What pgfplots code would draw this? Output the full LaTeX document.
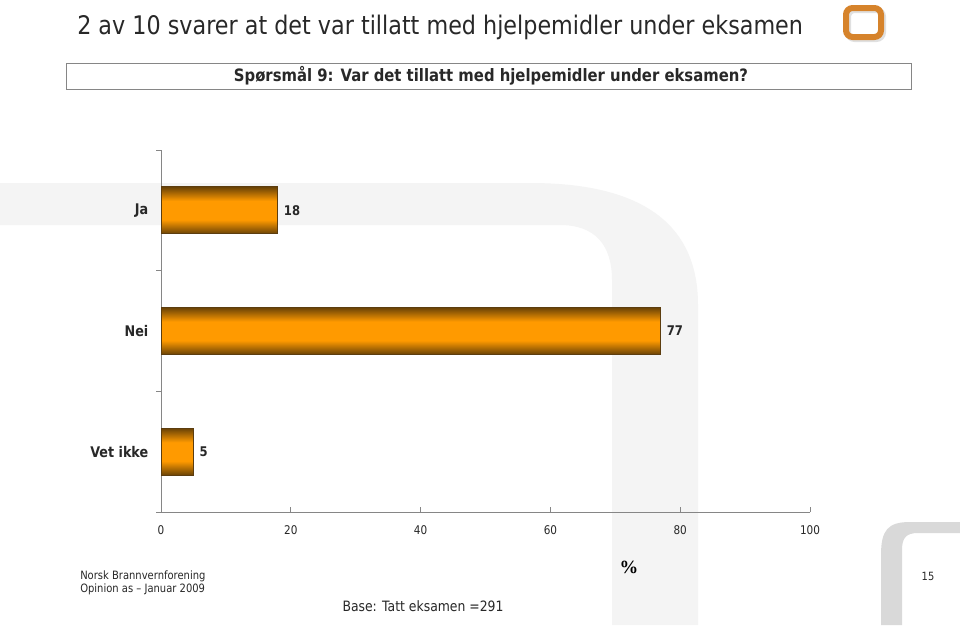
\documentclass[border=0pt]{standalone}
\usepackage{pgfplots}
\pgfplotsset{compat=1.18}
\usepackage{fontspec}
\setmainfont{DejaVu Sans}[FakeStretch=0.87]
\newfontfamily\serifb{Liberation Serif}
\definecolor{bandgray}{RGB}{244,244,244}
\definecolor{cornergray}{RGB}{217,217,217}
\definecolor{logoor}{RGB}{214,131,43}
\definecolor{bartop}{RGB}{105,66,6}
\definecolor{barmid}{RGB}{255,154,0}
\definecolor{baredge}{RGB}{92,61,15}
\definecolor{axgray}{RGB}{134,134,134}
\definecolor{txt}{RGB}{40,40,40}
\pgfdeclareverticalshading{barshade}{100bp}{color(0bp)=(bartop); color(25bp)=(bartop); color(40bp)=(barmid); color(60bp)=(barmid); color(75bp)=(bartop); color(100bp)=(bartop)}
\begin{document}
\begin{tikzpicture}
\begin{scope}[x=0.75pt,y=-0.75pt]
\path[use as bounding box] (0,0) rectangle (960,625);
\fill[white] (0,0) rectangle (960,625);
% big background shape
\fill[bandgray] (0,183) -- (530,183) .. controls (650,183) and (698,230) .. (698,305) -- (698,625) -- (612,625) -- (612,280) .. controls (612,245) and (595,225) .. (560,225) -- (0,225) -- cycle;
% lower right shape
\fill[cornergray] (881,625) -- (881,555) .. controls (881,530) and (888,522) .. (910,522) -- (960,522) -- (960,533) -- (918,533) .. controls (906,533) and (902,538) .. (902,550) -- (902,625) -- cycle;
% logo
\draw[line width=4.5pt, draw=black!12, rounded corners=5pt] (848,10) rectangle (883,39);
\draw[line width=4.5pt, draw=logoor, rounded corners=5pt] (846,8) rectangle (881,37);
% title
\node[anchor=base west, inner sep=0pt, text=txt, font=\fontsize{19.2}{22}\selectfont] at (77,34) {2 av 10 svarer at det var tillatt med hjelpemidler under eksamen};
% subtitle box
\draw[draw=axgray, line width=0.75pt, fill=white] (66,63) rectangle (911,89);
\node[anchor=base, inner sep=0pt, text=txt, font=\bfseries\fontsize{12.8}{14}\selectfont] at (491,81) {Spørsmål 9: Var det tillatt med hjelpemidler under eksamen?};
% footer
\node[anchor=base west, inner sep=0pt, text=txt, font=\fontsize{8.6}{10}\selectfont] at (80,579) {Norsk Brannvernforening};
\node[anchor=base west, inner sep=0pt, text=txt, font=\fontsize{8.6}{10}\selectfont] at (80,592) {Opinion as – Januar 2009};
\node[anchor=base, inner sep=0pt, text=txt, font=\fontsize{10.7}{12}\selectfont] at (423,611) {Base: Tatt eksamen =291};
\node[anchor=base, inner sep=0pt, text=txt, font=\fontsize{8.5}{10}\selectfont] at (928,580) {15};
\node[anchor=base, inner sep=0pt, text=black, font=\serifb\bfseries\fontsize{14}{16}\selectfont] at (629,573) {\%};
\coordinate (O) at (161,512);
\end{scope}
\begin{axis}[
  at={(O)}, anchor=south west,
  width=486.75pt, height=271.5pt, scale only axis,
  xmin=0, xmax=100, ymin=-0.5, ymax=2.5, y dir=reverse,
  axis x line*=bottom, axis y line*=left,
  axis line style={draw=axgray, line width=0.75pt},
  /pgf/number format/assume math mode=true,
  xtick={0,20,40,60,80,100},
  xtick align=inside,
  x tick style={draw=axgray, line width=0.75pt},
  xticklabel style={font=\fontsize{9}{11}\selectfont, text=txt, yshift=-7pt},
  ytick={-0.5,0.5,1.5,2.5}, yticklabels={},
  ytick align=outside,
  y tick style={draw=axgray, line width=0.75pt},
  major tick length=3.5pt,
  extra y ticks={0,1,2},
  extra y tick labels={Ja,Nei,Vet ikke},
  extra y tick style={major tick length=0pt, tick label style={font=\bfseries\fontsize{11}{13}\selectfont, text=txt, xshift=-6pt}},
  clip=false,
  barstyle/.style={xbar, bar width=35.25pt, bar shift=0pt, draw=baredge, line width=0.6pt,
    shade, shading=barshade,
    nodes near coords,
    nodes near coords style={font=\bfseries\fontsize{10}{12}\selectfont, text=txt, anchor=west, xshift=1pt}},
]
\addplot[barstyle] coordinates {(18,0)};
\addplot[barstyle] coordinates {(77,1)};
\addplot[barstyle] coordinates {(5,2)};
\end{axis}
\end{tikzpicture}
\end{document}
